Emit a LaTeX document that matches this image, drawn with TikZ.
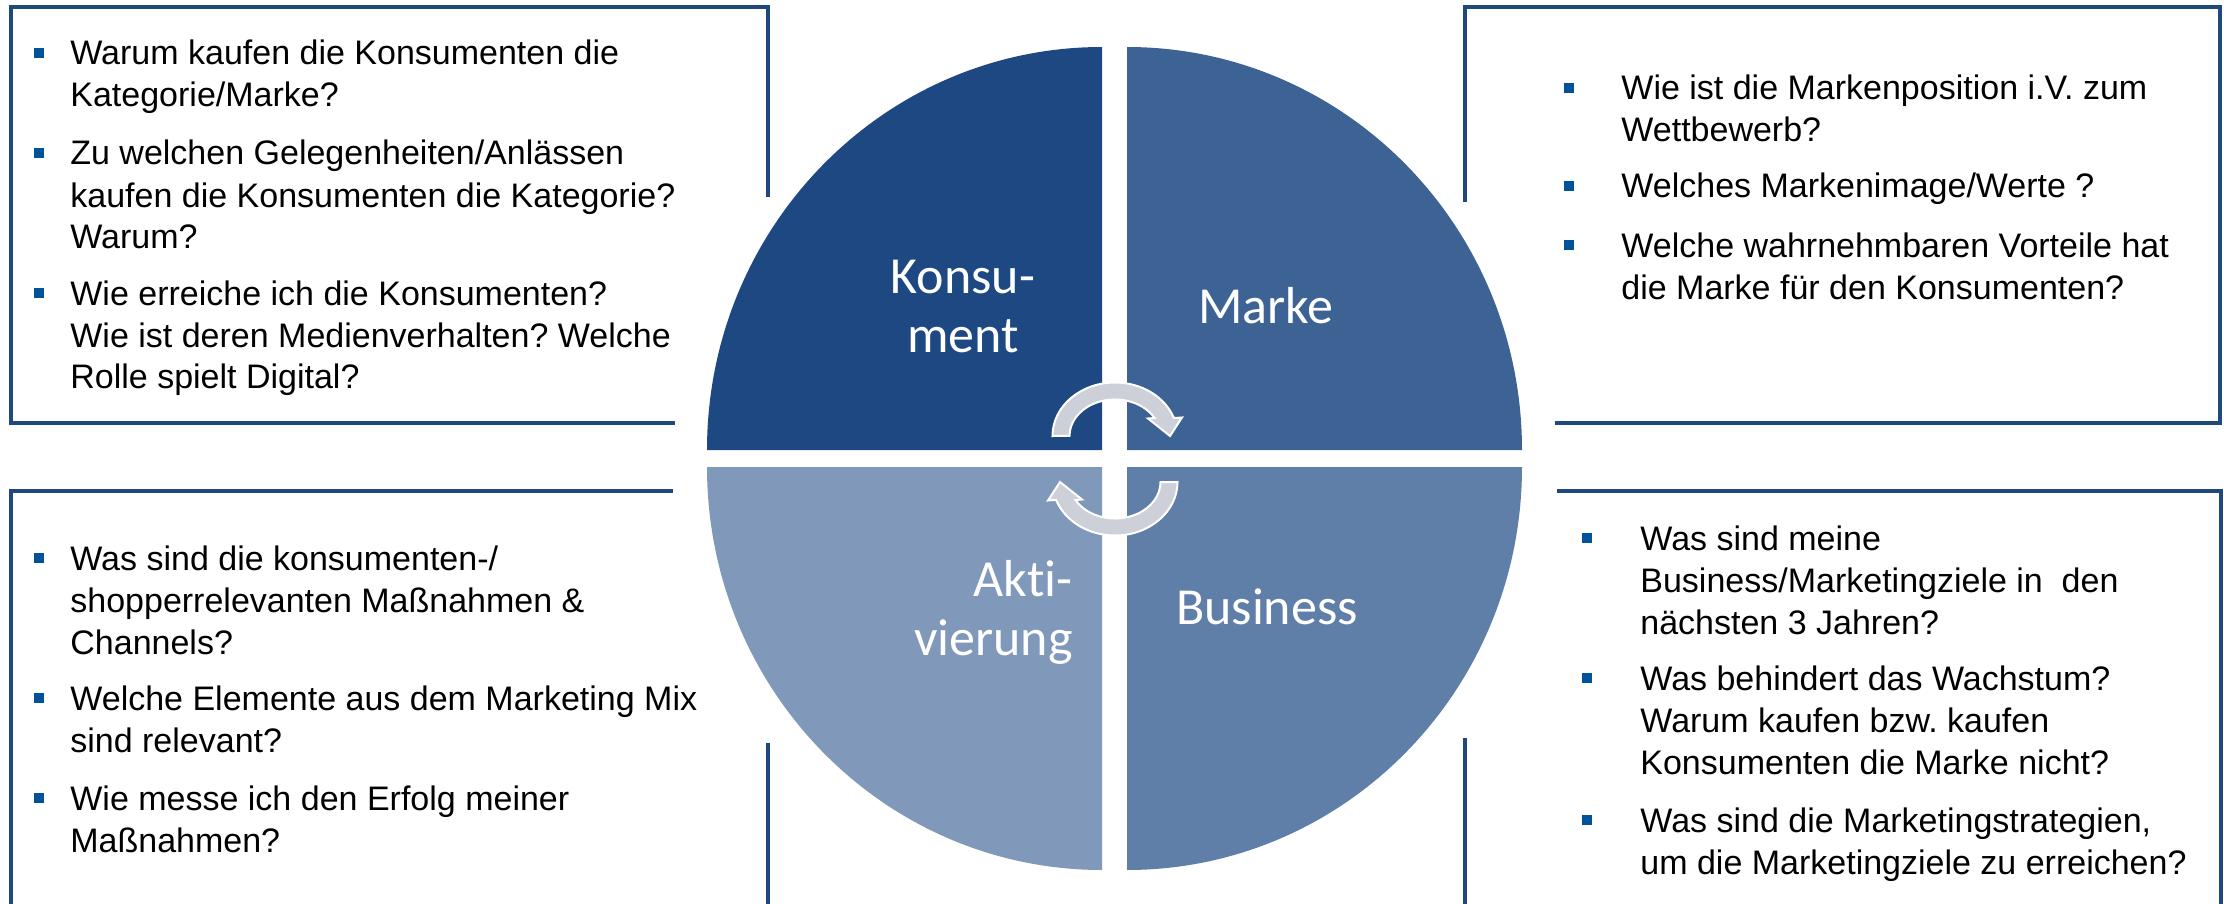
\documentclass[tikz,border=0pt]{standalone}
\usepackage{fontspec}
\setmainfont{Liberation Sans}
\newfontfamily\calfont[Ligatures=NoCommon]{Carlito}
\usetikzlibrary{calc}
\frenchspacing
\definecolor{frame_blue}{RGB}{31, 73, 125}
\definecolor{dot_blue}{RGB}{0, 82, 155}
\definecolor{q_kons}{RGB}{30, 72, 130}
\definecolor{q_marke}{RGB}{61, 99, 149}
\definecolor{q_bus}{RGB}{95, 126, 168}
\definecolor{q_akti}{RGB}{128, 152, 186}
\definecolor{arr_gray}{RGB}{205, 208, 216}
\tikzstyle{frame}=[draw=frame_blue,line width=2pt]
\tikzstyle{dot}=[rectangle,fill=dot_blue,minimum size=5pt,inner sep=0pt]
\tikzstyle{qtext}=[inner sep=0pt,font=\fontsize{17}{21}\selectfont]
\tikzstyle{lbl}=[text=white,inner sep=0pt,font=\calfont\fontsize{26}{29.5}\selectfont]
\tikzstyle{cyc}=[fill=arr_gray,draw=white,line width=1pt]
% bullet item: name, dot x, text x, first baseline y, text
\newcommand{\qitem}[5]{%
  \node [style=dot] (#1d) at (#2,#4-12) {};
  \node [style=qtext,anchor=base west] (#1) at (#3,#4)
    {\begin{tabular}[t]{@{}l@{}}#5\end{tabular}};}

\begin{document}
\begin{tikzpicture}[x=0.5pt,y=-0.5pt]
    \useasboundingbox (0,0) rectangle (2224,904);
    % frames, broken where the circle is
    \draw [style=frame] (768,197) -- (768,7) -- (11,7) -- (11,423) -- (675,423);
    \draw [style=frame] (1465,202) -- (1465,7) -- (2220,7) -- (2220,423) -- (1555,423);
    \draw [style=frame] (673,491) -- (11,491) -- (11,904);
    \draw [style=frame] (768,743) -- (768,904);
    \draw [style=frame] (1557,491) -- (2221,491) -- (2221,904);
    \draw [style=frame] (1465,738) -- (1465,904);
    % quadrants
    \fill [q_kons] (1102,450) -- (707,450)
        arc[start angle=180,end angle=270,x radius=395,y radius=403] -- cycle;
    \fill [q_marke] (1127,450) -- (1127,47)
        arc[start angle=270,end angle=360,x radius=395,y radius=403] -- cycle;
    \fill [q_bus] (1127,467) -- (1522,467)
        arc[start angle=0,end angle=90,x radius=395,y radius=403] -- cycle;
    \fill [q_akti] (1102,467) -- (1102,870)
        arc[start angle=90,end angle=180,x radius=395,y radius=403] -- cycle;
    % labels (base = last line)
    \node [style=lbl,align=center,anchor=base] (kons) at (963,352) {Konsu-\\ment};
    \node [style=lbl,anchor=base] (marke) at (1266,323) {Marke};
    \node [style=lbl,align=right,anchor=base east] (akti) at (1073,655) {Akti-\\vierung};
    \node [style=lbl,anchor=base] (bus) at (1267,624) {Business};
    % circular arrows
    \foreach \r in {0,180} {
      \begin{scope}[rotate around={\r:(1115,459)}]
        \path [style=cyc] (1052.5,436)
            arc[start angle=180,end angle=340.4,x radius=62.5,y radius=53.5]
            -- (1182,417.5) -- (1170,436) -- (1148,418.5) -- (1154.6,418)
            arc[start angle=330.5,end angle=180,x radius=45.5,y radius=36.5] -- cycle;
      \end{scope}
    }
    % top left
    \qitem{tl1}{39}{70}{65}{Warum kaufen die Konsumenten die\\Kategorie/Marke?}
    \qitem{tl2}{39}{70}{165}{Zu welchen Gelegenheiten/Anlässen\\kaufen die Konsumenten die Kategorie?\\Warum?}
    \qitem{tl3}{39}{70}{305}{Wie erreiche ich die Konsumenten?\\Wie ist deren Medienverhalten? Welche\\Rolle spielt Digital?}
    % top right
    \qitem{tr1}{1569}{1621}{100}{Wie ist die Markenposition i.V. zum\\Wettbewerb?}
    \qitem{tr2}{1569}{1621}{198}{Welches Markenimage/Werte ?}
    \qitem{tr3}{1569}{1621}{257}{Welche wahrnehmbaren Vorteile hat\\die Marke für den Konsumenten?}
    % bottom left
    \qitem{bl1}{39}{70}{570}{Was sind die konsumenten-/\\shopperrelevanten Maßnahmen \&\\Channels?}
    \qitem{bl2}{39}{70}{710}{Welche Elemente aus dem Marketing Mix\\sind relevant?}
    \qitem{bl3}{39}{70}{810}{Wie messe ich den Erfolg meiner\\Maßnahmen?}
    % bottom right
    \qitem{br1}{1587}{1640}{550}{Was sind meine\\Business/Marketingziele in~ den\\nächsten 3 Jahren?}
    \qitem{br2}{1587}{1640}{690}{Was behindert das Wachstum?\\Warum kaufen bzw. kaufen\\Konsumenten die Marke nicht?}
    \qitem{br3}{1587}{1640}{832}{Was sind die Marketingstrategien,\\um die Marketingziele zu erreichen?}
\end{tikzpicture}
\end{document}
